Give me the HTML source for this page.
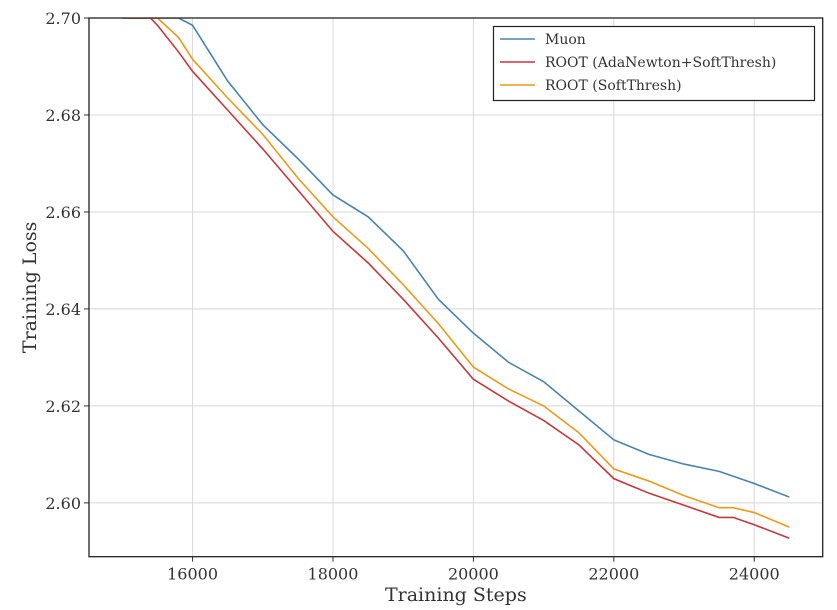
<!DOCTYPE html>
<html><head><meta charset="utf-8"><style>
body{margin:0;background:#fff;}
svg{display:block;font-family:"DejaVu Serif","Liberation Serif",serif;}
</style></head><body>
<svg id="chart" width="837" height="610"></svg>
<script>
const steps=[15000,15400,15500,15800,16000,16500,17000,17500,18000,18500,19000,19500,20000,20500,21000,21500,22000,22500,23000,23500,23700,24000,24500];
const muon=[2.70,2.70,2.70,2.70,2.6985,2.687,2.678,2.671,2.6635,2.659,2.652,2.642,2.635,2.629,2.625,2.619,2.613,2.610,2.608,2.6065,2.6055,2.604,2.6012];
const rootAda=[2.70,2.70,2.6985,2.693,2.689,2.681,2.673,2.6645,2.656,2.6495,2.642,2.634,2.6255,2.621,2.617,2.612,2.605,2.602,2.5995,2.597,2.597,2.5955,2.5927];
const rootSoft=[2.70,2.70,2.70,2.696,2.6915,2.6835,2.676,2.667,2.659,2.6525,2.645,2.637,2.628,2.6235,2.620,2.6145,2.607,2.6045,2.6015,2.599,2.599,2.598,2.595];
const xTicks=[16000,18000,20000,22000,24000];
const yTicks=[2.60,2.62,2.64,2.66,2.68,2.70];
const series=[{name:"Muon",vals:muon,color:"#4a83ad",id:"muon"},{name:"ROOT (AdaNewton+SoftThresh)",vals:rootAda,color:"#c4383c",id:"root-adanewton"},{name:"ROOT (SoftThresh)",vals:rootSoft,color:"#ea9a1c",id:"root-softthresh"}];
const L=89,R=822.7,T=18,B=556.7,x0=14525,x1=24975,y0=2.5889,y1=2.70;
const sx=v=>L+(v-x0)/(x1-x0)*(R-L);
const sy=v=>B-(v-y0)/(y1-y0)*(B-T);
const svg=document.getElementById('chart');const NS="http://www.w3.org/2000/svg";
function mk(t,a,p){const e=document.createElementNS(NS,t);for(const k in a)e.setAttribute(k,a[k]);(p||svg).appendChild(e);return e;}
const cp=mk('clipPath',{id:'clip'});mk('rect',{x:L,y:T,width:R-L,height:B-T},cp);
xTicks.forEach(v=>{const x=sx(v);
const g=mk('line',{x1:x,x2:x,y1:T,y2:B,stroke:'#d8d8d8','stroke-width':1});

mk('line',{x1:x,x2:x,y1:B,y2:B+5,stroke:'#333'});
const t=mk('text',{x:x,y:B+23,'text-anchor':'middle','font-size':16,fill:'#333'});t.textContent=v;
});
yTicks.forEach(v=>{const y=sy(v);
const g=mk('line',{x1:L,x2:R,y1:y,y2:y,stroke:'#d8d8d8','stroke-width':1});

mk('line',{x1:L-5,x2:L,y1:y,y2:y,stroke:'#333'});
const t=mk('text',{x:L-8,y:y+6,'text-anchor':'end','font-size':16,fill:'#333'});t.textContent=v.toFixed(2);
});
series.forEach(s=>{const pts=steps.map((st,i)=>sx(st)+','+sy(Math.min(s.vals[i],2.70))).join(' ');
const p=mk('polyline',{points:pts,fill:'none',stroke:s.color,'stroke-width':1.6,'clip-path':'url(#clip)'});
});
const fr=mk('rect',{x:L,y:T,width:R-L,height:B-T,fill:'none',stroke:'#222','stroke-width':1.3});

const xt=mk('text',{x:(L+R)/2,y:601,'text-anchor':'middle','font-size':19,fill:'#333'});xt.textContent='Training Steps';

const yt=mk('text',{x:36,y:(T+B)/2,'text-anchor':'middle','font-size':19,fill:'#333',transform:`rotate(-90 36 ${(T+B)/2})`});yt.textContent='Training Loss';

const lg=mk('g',{});
mk('rect',{x:493.5,y:26.5,width:321,height:74,fill:'#fff',stroke:'#222','stroke-width':1.2},lg);
series.forEach((s,i)=>{const y=39+i*23;
const e=mk('g',{},lg);
mk('line',{x1:500,x2:535,y1:y,y2:y,stroke:s.color,'stroke-width':1.6},e);
const t=mk('text',{x:545,y:y+5,'font-size':14,fill:'#333'},e);t.textContent=s.name;});
</script></body></html>
